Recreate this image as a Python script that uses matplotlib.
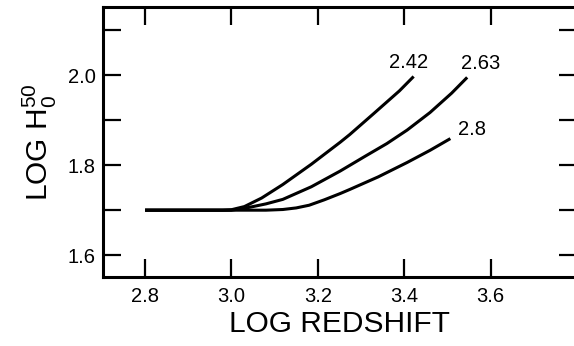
import matplotlib
matplotlib.use('Agg')
import matplotlib.pyplot as plt

plt.rcParams['font.family'] = ['Liberation Sans', 'DejaVu Sans']
plt.rcParams['mathtext.fontset'] = 'custom'
plt.rcParams['mathtext.rm'] = 'Liberation Sans'

# curves, labelled by their parameter
x_242 = [2.80, 2.98, 3.00, 3.03, 3.07, 3.119, 3.185, 3.252, 3.274, 3.33, 3.389, 3.422]
y_242 = [1.70, 1.70, 1.701, 1.708, 1.727, 1.757, 1.802, 1.851, 1.868, 1.915, 1.965, 1.997]

x_263 = [2.80, 3.00, 3.04, 3.08, 3.119, 3.185, 3.252, 3.31, 3.36, 3.407, 3.46, 3.51, 3.546]
y_263 = [1.70, 1.70, 1.706, 1.714, 1.724, 1.752, 1.787, 1.820, 1.848, 1.878, 1.917, 1.960, 1.995]

x_28 = [2.80, 3.08, 3.119, 3.15, 3.18, 3.215, 3.252, 3.274, 3.34, 3.407, 3.46, 3.507]
y_28 = [1.70, 1.70, 1.7015, 1.705, 1.711, 1.723, 1.737, 1.746, 1.774, 1.806, 1.833, 1.859]

curve_labels = ['2.42', '2.63', '2.8']
label_x = [3.411, 3.578, 3.556]
label_y = [2.027, 2.026, 1.879]

x_ticks = [2.8, 3.0, 3.2, 3.4, 3.6, 3.8]
x_ticklabels = ['2.8', '3.0', '3.2', '3.4', '3.6', '']
y_ticks = [1.6, 1.7, 1.8, 1.9, 2.0, 2.1]
y_ticklabels = ['1.6', '', '1.8', '', '2.0', '']


def main():
    fig = plt.figure(figsize=(5.74, 3.46), dpi=100)
    ax = fig.add_axes([0.179, 0.2, 0.826, 0.7806])

    for xs, ys in [(x_242, y_242), (x_263, y_263), (x_28, y_28)]:
        ax.plot(xs, ys, color='black', lw=2.2, solid_capstyle='butt',
                solid_joinstyle='round')
    for t, lx, ly in zip(curve_labels, label_x, label_y):
        ax.text(lx, ly, t, fontsize=14.5, ha='center', va='center')

    ax.set_xlim(2.702, 3.756)
    ax.set_ylim(1.552, 2.152)
    ax.set_xticks(x_ticks)
    ax.set_xticklabels(x_ticklabels)
    ax.set_yticks(y_ticks)
    ax.set_yticklabels(y_ticklabels)
    ax.tick_params(direction='in', length=13, width=1.6, labelsize=14.5,
                   top=True, right=True, pad=5)
    ax.tick_params(axis='x', pad=7)
    for s in ax.spines.values():
        s.set_linewidth(2.2)

    ax.set_xlabel('LOG REDSHIFT', fontsize=21.5, labelpad=3)
    ax.set_ylabel(r'LOG H$_{\mathregular{0}}^{\mathregular{50}}$', fontsize=21.5, labelpad=6)

    fig.savefig('out.png', dpi=100)


if __name__ == '__main__':
    main()
